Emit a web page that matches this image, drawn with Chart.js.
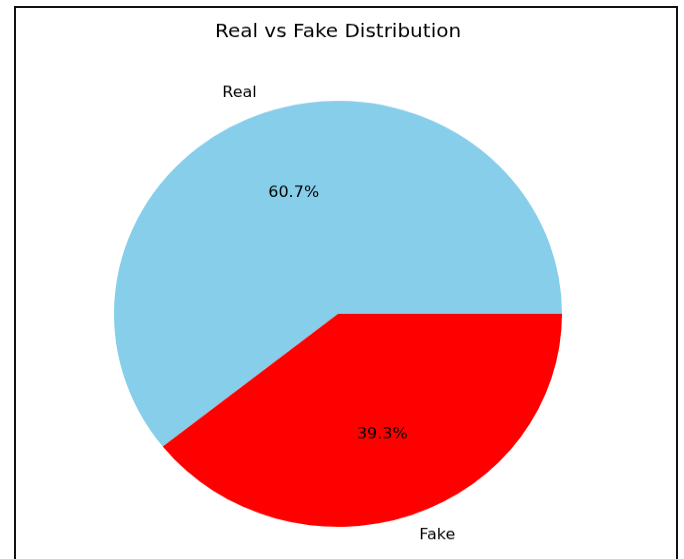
<!DOCTYPE html>
<html>
<head>
<meta charset="utf-8">
<title>Real vs Fake Distribution</title>
<script src="https://cdn.jsdelivr.net/npm/chart.js@4/dist/chart.umd.min.js"></script>
<style>
    html, body {
        margin: 0;
        padding: 0;
        background: #ffffff;
        overflow: hidden;
    }
    body {
        width: 684px;
        height: 559px;
        position: relative;
    }
    .frame {
        position: absolute;
        left: 14px;
        top: 6px;
        width: 664px;
        height: 600px;
        border: 2px solid #111;
        box-sizing: border-box;
    }
    /* the reference is squeezed a little vertically */
    .chart-box {
        position: absolute;
        left: 0;
        top: 0;
        width: 684px;
        height: 588px;
        transform: scaleY(0.951);
        transform-origin: 0 0;
    }
</style>
</head>
<body>
<div class="frame"></div>
<div class="chart-box">
    <canvas id="pieChart"></canvas>
</div>
<script>
const categories = ['Real', 'Fake'];
const shares = [60.7, 39.3];
const sliceColors = ['#87CEEB', '#FF0000'];

// labels outside (1.1 r) and percentages inside (0.6 r), like matplotlib's pie
const pieLabels = {
    id: 'pieLabels',
    afterDatasetsDraw(chart) {
        const ctx = chart.ctx;
        const meta = chart.getDatasetMeta(0);
        const total = shares.reduce((a, b) => a + b, 0);
        ctx.save();
        ctx.fillStyle = '#000';
        ctx.font = '16px "DejaVu Sans"';
        ctx.textBaseline = 'middle';
        meta.data.forEach((arc, i) => {
            const p = arc.getProps(['x', 'y', 'startAngle', 'endAngle', 'outerRadius'], true);
            const mid = (p.startAngle + p.endAngle) / 2;
            const c = Math.cos(mid);
            const s = Math.sin(mid);

            ctx.textAlign = c >= 0 ? 'left' : 'right';
            ctx.fillText(categories[i], p.x + c * p.outerRadius * 1.1, p.y + s * p.outerRadius * 1.1);

            ctx.textAlign = 'center';
            const pct = (shares[i] / total * 100).toFixed(1) + '%';
            ctx.fillText(pct, p.x + c * p.outerRadius * 0.6, p.y + s * p.outerRadius * 0.6);
        });
        ctx.restore();
    }
};

const fakeShare = shares[1] / shares.reduce((a, b) => a + b, 0);

new Chart(document.getElementById('pieChart'), {
    type: 'pie',
    data: {
        labels: categories,
        datasets: [{
            data: shares,
            backgroundColor: sliceColors,
            borderWidth: 0
        }]
    },
    options: {
        responsive: true,
        maintainAspectRatio: false,
        animation: false,
        // matplotlib starts at 3 o'clock and goes counter-clockwise
        rotation: 90 + 360 * fakeShare,
        layout: {
            padding: { top: 0, left: 114, right: 122, bottom: 34 }
        },
        plugins: {
            legend: { display: false },
            tooltip: { enabled: false },
            title: {
                display: true,
                text: 'Real vs Fake Distribution',
                color: '#000',
                font: { family: 'DejaVu Sans', size: 20, weight: 'normal' },
                padding: { top: 22, bottom: 60 }
            }
        }
    },
    plugins: [pieLabels]
});
</script>
</body>
</html>
